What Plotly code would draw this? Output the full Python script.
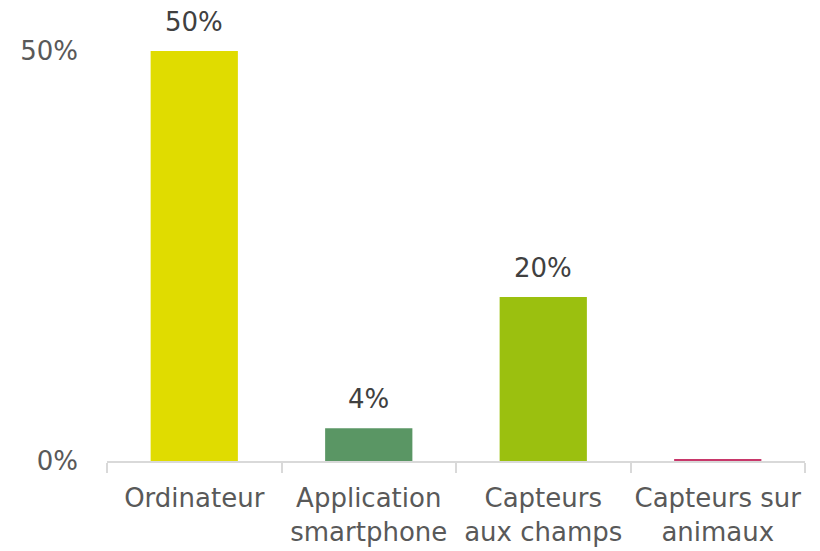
import plotly.graph_objects as go

categories = ["Ordinateur", "Application<br>smartphone", "Capteurs<br>aux champs", "Capteurs sur<br>animaux"]
values = [50, 4, 20, 0.15]
labels = ["50%", "4%", "20%", ""]
colors = ["#E0DC00", "#5A9664", "#9BC00F", "#C8376A"]
ytick_vals = [0, 50]
ytick_text = ["0%", "50%"]

FONT = "DejaVu Sans, Arial, sans-serif"

fig = go.Figure(go.Bar(
    x=categories, y=values,
    marker=dict(color=colors, line=dict(width=0)),
    cliponaxis=False, width=0.5, hoverinfo="skip",
))

for c, v, t in zip(categories, values, labels):
    if t:
        fig.add_annotation(x=c, y=v, text=t, showarrow=False, yanchor="bottom",
                           yshift=12, font=dict(family=FONT, size=26, color="#404040"))

fig.update_layout(
    width=812, height=543,
    margin=dict(l=99, r=15, t=43, b=90),
    paper_bgcolor="white", plot_bgcolor="white",
    font=dict(family=FONT, size=26, color="#595959"),
    showlegend=False,
)
fig.update_xaxes(
    showline=True, linecolor="#D9D9D9", linewidth=2,
    ticks="outside", tickson="boundaries", ticklen=10, tickcolor="#D9D9D9", tickwidth=2,
    tickangle=0, ticklabelstandoff=13,
    tickfont=dict(family=FONT, size=26, color="#595959"),
    showgrid=False, automargin=False,
)
fig.update_yaxes(
    range=[0, 50], tickvals=ytick_vals, ticktext=ytick_text,
    showgrid=True, gridcolor="#D9D9D9", gridwidth=2,
    zeroline=False, showline=False, ticks="",
    ticklabelstandoff=28, automargin=False,
    tickfont=dict(family=FONT, size=26, color="#595959"),
)

fig.write_html("out.html")
